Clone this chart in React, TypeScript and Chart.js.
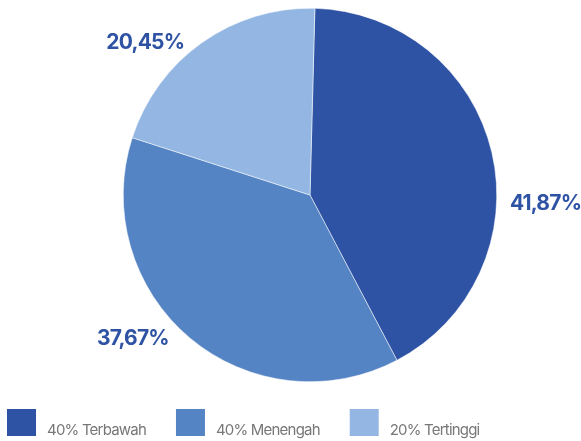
import React, { useEffect, useRef } from "react";
import { Chart, registerables } from "chart.js";

Chart.register(...registerables);

const categories = ["40% Terbawah", "40% Menengah", "20% Tertinggi"];
const values = [41.87, 37.67, 20.45];
const valueLabels = ["41,87%", "37,67%", "20,45%"];
const colors = ["#2f53a4", "#5584c4", "#93b7e2"];

const FONT = "Inter, 'Noto Sans', sans-serif";

const outsideLabels = {
  id: "outsideLabels",
  afterDatasetsDraw(chart: any, _args: any, opts: any) {
    const ctx = chart.ctx;
    const meta = chart.getDatasetMeta(0);
    ctx.save();
    ctx.font = `bold ${opts.size}px ${FONT}`;
    (ctx as any).letterSpacing = opts.spacing;
    ctx.fillStyle = opts.color;
    ctx.textAlign = "center";
    ctx.textBaseline = "middle";
    meta.data.forEach((arc: any, i: number) => {
      const p = opts.placements[i];
      const a = (p.angle * Math.PI) / 180;
      const r = arc.outerRadius * p.dist;
      ctx.fillText(valueLabels[i], arc.x + Math.cos(a) * r, arc.y + Math.sin(a) * r);
    });
    ctx.restore();
  },
};

const bottomLegend = {
  id: "bottomLegend",
  afterDraw(chart: any, _args: any, opts: any) {
    const ctx = chart.ctx;
    ctx.save();
    ctx.font = `${opts.size}px ${FONT}`;
    (ctx as any).letterSpacing = opts.spacing;
    ctx.textBaseline = "alphabetic";
    ctx.textAlign = "left";
    let x = opts.x;
    chart.data.labels.forEach((label: string, i: number) => {
      ctx.fillStyle = chart.data.datasets[0].backgroundColor[i];
      ctx.fillRect(x, opts.boxTop, opts.boxW, opts.boxH);
      ctx.fillStyle = opts.color;
      const tx = x + opts.textOffset;
      ctx.fillText(label, tx, opts.baseline);
      x = tx + ctx.measureText(label).width + opts.gap;
    });
    ctx.restore();
  },
};

export default function App() {
  const ref = useRef<HTMLCanvasElement>(null);
  useEffect(() => {
    const chart = new Chart(ref.current!, {
      type: "pie",
      data: {
        labels: categories,
        datasets: [
          {
            data: values,
            backgroundColor: colors,
            borderColor: "#ffffff",
            borderWidth: 0.5,
          },
        ],
      },
      options: {
        responsive: false,
        animation: false,
        rotation: 1.5,
        layout: { padding: { top: 8, bottom: 59, left: 39, right: 0 } },
        plugins: {
          legend: { display: false },
          tooltip: { enabled: false },
          outsideLabels: {
            size: 21,
            spacing: "-0.8px",
            color: "#2f53a4",
            placements: [
              { angle: 2, dist: 1.262 },
              { angle: 141, dist: 1.22 },
              { angle: -137.3, dist: 1.2 },
            ],
          },
          bottomLegend: {
            size: 15,
            spacing: "-0.8px",
            color: "#777777",
            x: 7,
            boxTop: 409,
            boxW: 29,
            boxH: 27,
            textOffset: 40,
            baseline: 435,
            gap: 30,
          },
        } as any,
      },
      plugins: [outsideLabels, bottomLegend],
    });
    return () => chart.destroy();
  }, []);
  return (
    <div style={{ position: "fixed", left: 0, top: 0, width: 581, height: 441, background: "#fff" }}>
      <canvas ref={ref} width={581} height={441} style={{ display: "block" }} />
    </div>
  );
}
